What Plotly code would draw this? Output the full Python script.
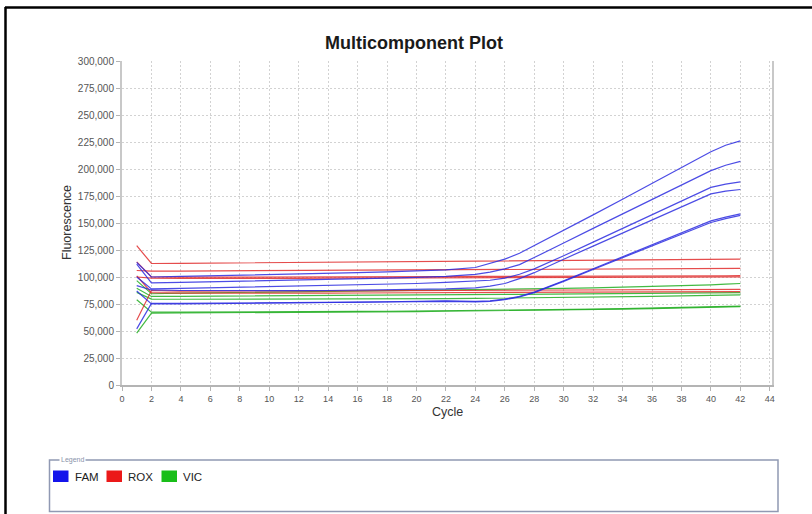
import plotly.graph_objects as go

# ---- data (fluorescence in thousands) ----
cycles = [1, 2, 4, 6, 8, 10, 12, 14, 16, 18, 20, 22, 24, 25, 26, 27, 28, 29, 30, 32, 34, 36, 38, 40, 41, 42]

fam_1 = [113.5, 100, 100.5, 101, 101.5, 102, 102.6, 103.3, 104, 104.8, 105.6, 106.6, 108.8, 112.5, 116.5, 122, 129, 136, 143, 157.5, 172, 186.5, 201, 216, 222, 226]
fam_2 = [112, 94.5, 95, 95.5, 96, 96.5, 97, 97.6, 98.2, 98.9, 99.7, 100.6, 102.5, 104.5, 107.5, 111.5, 118, 124.5, 131.5, 145, 158.5, 172, 185, 198.5, 203.5, 207]
fam_3 = [100, 89, 89.5, 90, 90.5, 91, 91.5, 92, 92.6, 93.2, 94, 95, 96, 97, 99, 102.5, 107.5, 113.3, 119.7, 132.3, 145, 157.7, 170.3, 183, 186, 188]
fam_4 = [92, 88, 87.5, 87.3, 87.2, 87.2, 87.3, 87.5, 87.8, 88.1, 88.5, 89, 90, 91.5, 94, 98.5, 104, 110.5, 116.5, 128.6, 140.6, 152.7, 164.8, 176.9, 179.5, 181]
fam_5 = [52, 75.5, 75.5, 75.6, 75.8, 76, 76.2, 76.5, 76.8, 77.1, 77.5, 78, 77.5, 78, 79.5, 82, 86, 91, 96.5, 107.6, 118.7, 129.8, 141, 152, 155.5, 158.5]
fam_6 = [87, 75, 75, 75.2, 75.4, 75.6, 75.8, 76.1, 76.4, 76.7, 77.1, 77.5, 77, 77.5, 79, 81.5, 85.5, 90.5, 96, 107, 118, 129, 140, 150.5, 154, 157]

rox_1 = [129, 112.5, 112.7, 112.9, 113.1, 113.3, 113.5, 113.8, 114.1, 114.4, 114.7, 115, 115.3, 115.4, 115.5, 115.6, 115.7, 115.8, 115.9, 116, 116.1, 116.2, 116.3, 116.4, 116.4, 116.5]
rox_2 = [106, 105.5, 105.5, 105.6, 105.7, 105.8, 105.9, 106, 106.1, 106.2, 106.3, 106.5, 106.7, 106.8, 106.9, 107, 107, 107.1, 107.2, 107.4, 107.5, 107.6, 107.7, 107.8, 107.9, 108]
rox_3 = [114, 100, 99.8, 99.8, 99.8, 99.9, 100, 100, 100.1, 100.2, 100.3, 100.4, 100.5, 100.5, 100.6, 100.6, 100.7, 100.7, 100.8, 100.8, 100.9, 101, 101, 101.1, 101.1, 101.2]
rox_4 = [100, 99, 98.7, 98.6, 98.6, 98.7, 98.8, 98.9, 99, 99.1, 99.2, 99.3, 99.4, 99.5, 99.5, 99.6, 99.6, 99.7, 99.7, 99.8, 99.9, 100, 100, 100.1, 100.1, 100.2]
rox_5 = [60, 87.5, 87, 86.9, 86.9, 87, 87, 87.1, 87.2, 87.3, 87.4, 87.5, 87.6, 87.7, 87.7, 87.8, 87.8, 87.9, 87.9, 88, 88.1, 88.2, 88.3, 88.4, 88.5, 88.5]
rox_6 = [101, 85.5, 85, 84.9, 84.9, 85, 85, 85.1, 85.2, 85.3, 85.4, 85.5, 85.6, 85.6, 85.7, 85.7, 85.8, 85.8, 85.9, 86, 86.1, 86.2, 86.3, 86.4, 86.5, 86.5]

vic_1 = [96.6, 84.5, 85, 85.3, 85.6, 86, 86.4, 86.8, 87.1, 87.4, 87.7, 88, 88.3, 88.5, 88.6, 88.8, 89, 89.2, 89.4, 89.9, 90.5, 91.2, 92, 92.8, 93.4, 94]
vic_2 = [89.5, 82, 82.1, 82.2, 82.3, 82.4, 82.5, 82.7, 82.9, 83.1, 83.3, 83.5, 83.7, 83.8, 83.9, 84, 84.1, 84.2, 84.3, 84.5, 84.7, 84.9, 85.1, 85.3, 85.4, 85.5]
vic_3 = [85.8, 79.5, 79.4, 79.4, 79.4, 79.5, 79.5, 79.6, 79.7, 79.8, 79.9, 80, 80.2, 80.3, 80.4, 80.5, 80.6, 80.7, 80.8, 81.1, 81.5, 82, 82.5, 83, 83.3, 83.5]
vic_4 = [79, 67.5, 67.5, 67.5, 67.6, 67.7, 67.8, 67.9, 68.1, 68.3, 68.5, 68.8, 69, 69.1, 69.2, 69.3, 69.4, 69.6, 69.8, 70.2, 70.7, 71.3, 71.9, 72.4, 72.7, 73]
vic_5 = [48, 66.5, 66.7, 66.8, 66.9, 67, 67.2, 67.4, 67.6, 67.8, 68, 68.3, 68.5, 68.6, 68.7, 68.8, 68.9, 69.1, 69.3, 69.7, 70.2, 70.8, 71.4, 72, 72.3, 72.5]

dyes = ["FAM", "ROX", "VIC"]
line_colors = {"FAM": "rgb(45,45,225)", "ROX": "rgb(225,45,45)", "VIC": "rgb(35,175,35)"}
swatch_colors = {"FAM": "rgb(20,20,235)", "ROX": "rgb(235,25,25)", "VIC": "rgb(25,190,25)"}
series = {
    "FAM": [fam_1, fam_2, fam_3, fam_4, fam_5, fam_6],
    "ROX": [rox_1, rox_2, rox_3, rox_4, rox_5, rox_6],
    "VIC": [vic_1, vic_2, vic_3, vic_4, vic_5],
}
x_ticks = list(range(0, 45, 2))
y_ticks = list(range(0, 300001, 25000))

W, H = 812, 514
L, R, T, B = 122, 40, 61, 129
PW, PH = W - L - R, H - T - B


def px(x):
    return (x - L) / PW


def py(y):
    return (H - B - y) / PH


fig = go.Figure()
for dye in ["VIC", "ROX", "FAM"]:
    for vals in series[dye]:
        fig.add_trace(go.Scatter(
            x=cycles, y=[v * 1000 for v in vals], mode="lines",
            line=dict(color=line_colors[dye], width=1.2), opacity=0.85,
            name=dye, showlegend=False, hoverinfo="skip"))

font = "Liberation Sans, Arial, sans-serif"
fig.update_layout(
    width=W, height=H, margin=dict(l=L, r=R, t=T, b=B),
    paper_bgcolor="white", plot_bgcolor="white", showlegend=False,
    title=dict(text="<b>Multicomponent Plot</b>", x=414 / W, xref="container", xanchor="center",
               y=1 - 43 / H, yref="container", yanchor="middle",
               font=dict(family=font, size=18, color="#1a1a1a")),
    xaxis=dict(range=[0, 44.15], tickvals=x_ticks, showgrid=True, gridcolor="#d2d2d2",
               griddash="2px,2px", gridwidth=1, zeroline=False, showline=True,
               linecolor="#b4b4b4", linewidth=2, ticks="outside", ticklen=4,
               tickcolor="#b4b4b4", tickfont=dict(family=font, size=9, color="#555")),
    yaxis=dict(range=[0, 300000], tickvals=y_ticks, tickformat=",", showgrid=True,
               gridcolor="#d2d2d2", griddash="2px,2px", gridwidth=1, zeroline=False,
               showline=True, mirror=True, linecolor="#c8c8c8", linewidth=2,
               ticks="outside", ticklen=4, tickcolor="#b4b4b4",
               tickfont=dict(family=font, size=10, color="#555")),
)

ann = []
ann.append(dict(text="Fluorescence", x=px(67), y=py(223), xref="paper", yref="paper",
                textangle=-90, showarrow=False, xanchor="center", yanchor="middle",
                font=dict(family=font, size=12.5, color="#333")))
ann.append(dict(text="Cycle", x=px(447), y=py(412), xref="paper", yref="paper",
                showarrow=False, xanchor="center", yanchor="middle",
                font=dict(family=font, size=12.5, color="#333")))

shapes = []
# outer frame (top and left)
shapes.append(dict(type="line", xref="paper", yref="paper", x0=px(5), x1=px(812), y0=py(7.5), y1=py(7.5),
                   line=dict(color="black", width=2.5)))
shapes.append(dict(type="line", xref="paper", yref="paper", x0=px(5.5), x1=px(5.5), y0=py(7), y1=py(514),
                   line=dict(color="black", width=2.5)))
# legend box
shapes.append(dict(type="rect", xref="paper", yref="paper", x0=px(49.5), x1=px(778), y0=py(460), y1=py(511.5),
                   line=dict(color="#9099b3", width=1.5), fillcolor="rgba(0,0,0,0)"))
ann.append(dict(text="Legend", x=px(59), y=py(460), xref="paper", yref="paper", showarrow=False,
                xanchor="left", yanchor="middle", bgcolor="white", borderpad=1,
                font=dict(family=font, size=7, color="#8a93aa")))
leg_sq = {"FAM": 53, "ROX": 106.5, "VIC": 161.5}
for dye in dyes:
    x0 = leg_sq[dye]
    shapes.append(dict(type="rect", xref="paper", yref="paper", x0=px(x0), x1=px(x0 + 15.5),
                       y0=py(470.5), y1=py(482), line=dict(width=0), fillcolor=swatch_colors[dye]))
    ann.append(dict(text=dye, x=px(x0 + 19.5), y=py(476.5), xref="paper", yref="paper", showarrow=False,
                    xanchor="left", yanchor="middle", font=dict(family=font, size=11.5, color="#222")))

fig.update_layout(annotations=ann, shapes=shapes)
fig.write_html("out.html", config={"displayModeBar": False},
               post_script="document.body.style.margin='0';document.body.style.overflow='hidden';")
